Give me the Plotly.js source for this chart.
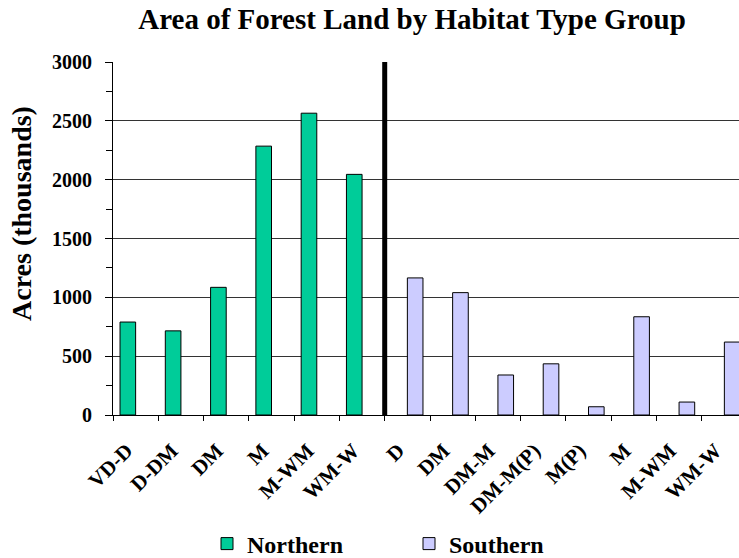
<!DOCTYPE html>
<html>
<head>
<meta charset="utf-8">
<script src="https://cdn.plot.ly/plotly-3.0.1.min.js"></script>
<style>
html,body{margin:0;padding:0;overflow:hidden;background:#fff;}
#chart{width:750px;height:558px;}
</style>
</head>
<body>
<div id="chart"></div>
<script>
// Data
var northernLabels = ["VD-D", "D-DM", "DM", "M", "M-WM", "WM-W"];
var southernLabels = ["D", "DM", "DM-M", "DM-M(P)", "M(P)", "M", "M-WM", "WM-W"];
var northernValues = [790, 715, 1085, 2285, 2565, 2045];
var southernValues = [1165, 1040, 340, 435, 70, 835, 110, 620];
var yTicks = [0, 500, 1000, 1500, 2000, 2500, 3000];

var allLabels = northernLabels.concat(southernLabels);
var nIdx = northernLabels.map(function(_, i){ return i; });
var sIdx = southernLabels.map(function(_, i){ return i + northernLabels.length; });
var allIdx = allLabels.map(function(_, i){ return i; });

var serif = "Liberation Serif, Times New Roman, serif";
var barW = 0.345;

var traces = [
  {
    type: "bar", name: "Northern", x: nIdx, y: northernValues,
    width: barW, offset: -barW,
    marker: {color: "#00CC99", line: {color: "#000000", width: 1}},
    hoverinfo: "y"
  },
  {
    type: "bar", name: "Southern", x: sIdx, y: southernValues,
    width: barW, offset: 0,
    marker: {color: "#CCCCFF", line: {color: "#000000", width: 1}},
    hoverinfo: "y"
  }
];

var layout = {
  width: 750, height: 558,
  margin: {l: 113, r: 3, t: 62, b: 143},
  paper_bgcolor: "#ffffff", plot_bgcolor: "#ffffff",
  barmode: "overlay",
  showlegend: true,
  title: {
    text: "Area of Forest Land by Habitat Type Group",
    font: {family: serif, size: 29, color: "#000", weight: "bold"},
    x: 412 / 750, xanchor: "center", xref: "container",
    y: 1 - 19 / 558, yanchor: "middle", yref: "container"
  },
  xaxis: {
    range: [-0.5, allLabels.length - 0.5],
    tickmode: "array", tickvals: allIdx, ticktext: allLabels,
    ticks: "", tickangle: -45, ticklabelstandoff: 14, ticklabelshift: -9,
    tickfont: {family: serif, size: 21, color: "#000", weight: "bold"},
    showline: true, linecolor: "#000", linewidth: 1,
    showgrid: false, zeroline: false, fixedrange: true,
    minor: {tick0: -0.5, dtick: 1, ticks: "outside", ticklen: 5, tickcolor: "#000", tickwidth: 1, showgrid: false}
  },
  yaxis: {
    range: [0, 3000], tickmode: "array", tickvals: yTicks,
    ticks: "outside", ticklen: 7, tickcolor: "#000", tickwidth: 1,
    ticklabelstandoff: 9,
    tickfont: {family: serif, size: 20, color: "#000", weight: "bold"},
    showline: true, linecolor: "#000", linewidth: 1,
    showgrid: true, gridcolor: "#333", gridwidth: 1, zeroline: false, fixedrange: true,
    minor: {tick0: 0, dtick: 250, ticks: "outside", ticklen: 6, tickcolor: "#000", tickwidth: 1, showgrid: false}
  },
  annotations: [
    {
      text: "Acres (thousands)", textangle: -90, showarrow: false,
      xref: "paper", x: -(113 - 21) / 634, xanchor: "center",
      yref: "paper", y: (415 - 213) / 353, yanchor: "middle",
      font: {family: serif, size: 28, color: "#000", weight: "bold"}
    }
  ],
  legend: {
    orientation: "h", x: 207 / 750, xanchor: "left", xref: "container",
    y: 1 - 544 / 558, yanchor: "middle", yref: "container",
    font: {family: serif, size: 24, color: "#000", weight: "bold"},
    itemwidth: 30, tracegroupgap: 0, entrywidth: 157, entrywidthmode: "pixels"
  },
  shapes: [
    {type: "line", xref: "x", yref: "y", x0: northernLabels.length - 0.5, x1: northernLabels.length - 0.5,
     y0: -15, y1: 3000, line: {color: "#000", width: 5}}
  ]
};

Plotly.newPlot("chart", traces, layout, {displayModeBar: false, staticPlot: true});
</script>
</body>
</html>
